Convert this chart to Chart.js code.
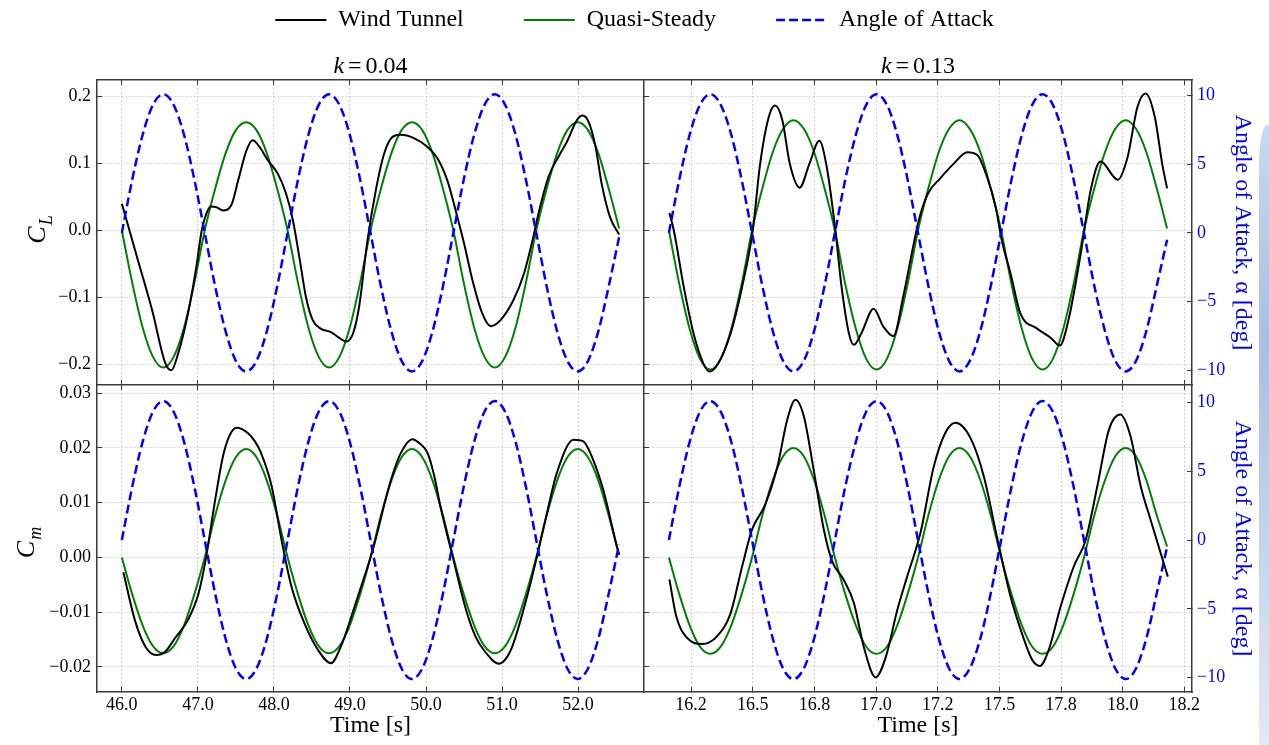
<!DOCTYPE html>
<html>
<head>
<meta charset="utf-8">
<script src="https://cdn.jsdelivr.net/npm/chart.js@4.4.1/dist/chart.umd.min.js"></script>
<style>
  html, body { margin: 0; padding: 0; background: #fff; }
  body { width: 1269px; height: 745px; position: relative; overflow: hidden; }
  canvas { position: absolute; }
  #strip { position: absolute; left: 1259px; top: 125px; width: 10px; height: 620px;
           background: linear-gradient(#cbd8ef, #aabee0 35%, #e3e9f5); border-top-left-radius: 8px 40px; }
</style>
</head>
<body>
<div id="strip"></div>
<canvas id="legend" width="1269" height="300" style="left:0;top:-52px"></canvas>
<canvas id="tl" width="644" height="385" style="left:0;top:0"></canvas>
<canvas id="tr" width="625" height="385" style="left:644px;top:0"></canvas>
<canvas id="bl" width="644" height="385" style="left:0;top:360px"></canvas>
<canvas id="br" width="625" height="385" style="left:644px;top:360px"></canvas>
<script>
// k = 0.04 run (slow)
const slowTime = [46.000, 46.136, 46.273, 46.409, 46.545, 46.681, 46.818, 46.954, 47.090, 47.226, 47.363, 47.499,
  47.635, 47.771, 47.908, 48.044, 48.180, 48.316, 48.453, 48.589, 48.725, 48.861, 48.998, 49.134, 49.270, 49.406,
  49.543, 49.679, 49.815, 49.951, 50.088, 50.224, 50.360, 50.496, 50.633, 50.769, 50.905, 51.041, 51.178, 51.314,
  51.450, 51.586, 51.723, 51.859, 51.995, 52.131, 52.268, 52.404, 52.540];
const slowAlpha = [0, 3.87, 7.14, 9.33, 10.1, 9.33, 7.14, 3.87, 0, -3.87, -7.14, -9.33, -10.1, -9.33, -7.14, -3.87,
  0, 3.87, 7.14, 9.33, 10.1, 9.33, 7.14, 3.87, 0, -3.87, -7.14, -9.33, -10.1, -9.33, -7.14, -3.87,
  0, 3.87, 7.14, 9.33, 10.1, 9.33, 7.14, 3.87, 0, -3.87, -7.14, -9.33, -10.1, -9.33, -7.14, -3.87, -0.3];
const slowQsLift = [0, -0.078, -0.145, -0.189, -0.205, -0.189, -0.145, -0.078, 0, 0.062, 0.115, 0.150, 0.162, 0.150, 0.115, 0.062,
  0, -0.078, -0.145, -0.189, -0.205, -0.189, -0.145, -0.078, 0, 0.062, 0.115, 0.150, 0.162, 0.150, 0.115, 0.062,
  0, -0.078, -0.145, -0.189, -0.205, -0.189, -0.145, -0.078, 0, 0.062, 0.115, 0.150, 0.162, 0.150, 0.115, 0.062, 0.003];
const slowQsMoment = [0, -0.0067, -0.0124, -0.0162, -0.0175, -0.0162, -0.0124, -0.0067, 0, 0.0076, 0.0140, 0.0183, 0.0198, 0.0183, 0.0140, 0.0076,
  0, -0.0067, -0.0124, -0.0162, -0.0175, -0.0162, -0.0124, -0.0067, 0, 0.0076, 0.0140, 0.0183, 0.0198, 0.0183, 0.0140, 0.0076,
  0, -0.0067, -0.0124, -0.0162, -0.0175, -0.0162, -0.0124, -0.0067, 0, 0.0076, 0.0140, 0.0183, 0.0198, 0.0183, 0.0140, 0.0076, 0.0005];
const slowWindLiftT = [46.00, 46.20, 46.40, 46.57, 46.65, 46.74, 46.87, 46.98, 47.05, 47.11, 47.17, 47.24, 47.33, 47.44, 47.53,
  47.64, 47.72, 47.81, 47.92, 48.05, 48.16, 48.25, 48.34, 48.42, 48.51, 48.62, 48.75, 48.84, 48.95, 49.04, 49.12, 49.23,
  49.34, 49.45, 49.56, 49.67, 49.84, 50.02, 50.15, 50.28, 50.39, 50.50, 50.61, 50.74, 50.85, 50.98, 51.15, 51.29, 51.40,
  51.50, 51.61, 51.74, 51.85, 51.99, 52.06, 52.14, 52.23, 52.31, 52.42, 52.54];
const slowWindLift = [0.040, -0.040, -0.120, -0.198, -0.209, -0.184, -0.124, -0.054, 0.000, 0.025, 0.036, 0.035, 0.030, 0.038, 0.075,
  0.120, 0.135, 0.125, 0.105, 0.085, 0.055, 0.015, -0.044, -0.099, -0.134, -0.147, -0.152, -0.159, -0.166, -0.154, -0.114, -0.015,
  0.060, 0.115, 0.140, 0.143, 0.138, 0.125, 0.108, 0.075, 0.030, -0.019, -0.074, -0.124, -0.143, -0.134, -0.104, -0.064, -0.015,
  0.035, 0.080, 0.110, 0.132, 0.166, 0.172, 0.162, 0.125, 0.070, 0.020, -0.006];
const slowWindMomentT = [46.02, 46.17, 46.31, 46.45, 46.57, 46.70, 46.87, 47.01, 47.11, 47.22, 47.33, 47.42, 47.51, 47.66, 47.75,
  47.83, 47.97, 48.10, 48.23, 48.40, 48.58, 48.75, 48.88, 49.06, 49.19, 49.30, 49.54, 49.67, 49.82, 49.91, 50.02, 50.11,
  50.19, 50.35, 50.54, 50.65, 50.76, 50.96, 51.07, 51.15, 51.33, 51.48, 51.59, 51.72, 51.94, 52.07, 52.16, 52.33, 52.51, 52.54];
const slowWindMoment = [-0.0027, -0.0114, -0.0163, -0.0178, -0.0172, -0.0147, -0.0114, -0.0065, 0.0002, 0.0099, 0.0185, 0.0224, 0.0237, 0.0227, 0.0212,
  0.0191, 0.0130, 0.0032, -0.0053, -0.0120, -0.0169, -0.0193, -0.0163, -0.0090, -0.0035, 0.0014, 0.0142, 0.0191, 0.0216, 0.0209, 0.0191, 0.0148,
  0.0093, 0.0002, -0.0102, -0.0144, -0.0169, -0.0194, -0.0181, -0.0157, -0.0071, 0.0014, 0.0081, 0.0154, 0.0215, 0.0212, 0.0191, 0.0124, 0.0020, 0.0005];

// k = 0.13 run (fast)
const fastTime = [16.160, 16.202, 16.244, 16.286, 16.328, 16.370, 16.413, 16.455, 16.497, 16.539, 16.581, 16.623,
  16.665, 16.707, 16.749, 16.791, 16.833, 16.875, 16.918, 16.960, 17.002, 17.044, 17.086, 17.128, 17.170, 17.212,
  17.254, 17.296, 17.338, 17.380, 17.423, 17.465, 17.507, 17.549, 17.591, 17.633, 17.675, 17.717, 17.759, 17.801,
  17.843, 17.885, 17.928, 17.970, 18.012, 18.054, 18.096, 18.138, 18.180];
const fastAlpha = [0, 3.87, 7.14, 9.33, 10.1, 9.33, 7.14, 3.87, 0, -3.87, -7.14, -9.33, -10.1, -9.33, -7.14, -3.87,
  0, 3.87, 7.14, 9.33, 10.1, 9.33, 7.14, 3.87, 0, -3.87, -7.14, -9.33, -10.1, -9.33, -7.14, -3.87,
  0, 3.87, 7.14, 9.33, 10.1, 9.33, 7.14, 3.87, 0, -3.87, -7.14, -9.33, -10.1, -9.33, -7.14, -3.87, -0.5];
const fastQsLift = [0, -0.080, -0.147, -0.192, -0.208, -0.192, -0.147, -0.080, 0, 0.063, 0.117, 0.152, 0.165, 0.152, 0.117, 0.063,
  0, -0.080, -0.147, -0.192, -0.208, -0.192, -0.147, -0.080, 0, 0.063, 0.117, 0.152, 0.165, 0.152, 0.117, 0.063,
  0, -0.080, -0.147, -0.192, -0.208, -0.192, -0.147, -0.080, 0, 0.063, 0.117, 0.152, 0.165, 0.152, 0.117, 0.063, 0.003];
const fastQsMoment = [0, -0.0067, -0.0124, -0.0163, -0.0176, -0.0163, -0.0124, -0.0067, 0, 0.0077, 0.0141, 0.0185, 0.0200, 0.0185, 0.0141, 0.0077,
  0, -0.0067, -0.0124, -0.0163, -0.0176, -0.0163, -0.0124, -0.0067, 0, 0.0077, 0.0141, 0.0185, 0.0200, 0.0185, 0.0141, 0.0077,
  0, -0.0067, -0.0124, -0.0163, -0.0176, -0.0163, -0.0124, -0.0067, 0, 0.0077, 0.0141, 0.0185, 0.0200, 0.0185, 0.0141, 0.0077, 0.002];
const fastWindLiftT = [16.162, 16.18, 16.22, 16.26, 16.30, 16.325, 16.36, 16.41, 16.457, 16.50, 16.53, 16.565, 16.59, 16.62,
  16.65, 16.69, 16.73, 16.77, 16.80, 16.835, 16.86, 16.89, 16.91, 16.94, 16.99, 17.03, 17.07, 17.11, 17.145, 17.173,
  17.21, 17.26, 17.315, 17.37, 17.41, 17.45, 17.485, 17.51, 17.545, 17.585, 17.65, 17.71, 17.745, 17.78, 17.83, 17.87,
  17.91, 17.98, 18.02, 18.06, 18.093, 18.13, 18.16, 18.18];
const fastWindLift = [0.026, 0.000, -0.084, -0.154, -0.199, -0.211, -0.199, -0.154, -0.084, 0.000, 0.100, 0.170, 0.187, 0.165,
  0.100, 0.064, 0.100, 0.134, 0.095, 0.000, -0.084, -0.154, -0.171, -0.154, -0.117, -0.144, -0.158, -0.099, -0.034, 0.015,
  0.055, 0.078, 0.100, 0.117, 0.113, 0.080, 0.035, -0.015, -0.064, -0.124, -0.146, -0.161, -0.172, -0.134, -0.034, 0.060,
  0.103, 0.076, 0.110, 0.185, 0.205, 0.170, 0.100, 0.063];
const fastWindMomentT = [16.162, 16.19, 16.234, 16.295, 16.355, 16.41, 16.457, 16.497, 16.55, 16.60, 16.64, 16.673, 16.707,
  16.747, 16.788, 16.822, 16.869, 16.91, 16.95, 16.998, 17.04, 17.086, 17.126, 17.18, 17.234, 17.28, 17.322, 17.383,
  17.437, 17.49, 17.545, 17.60, 17.633, 17.664, 17.70, 17.748, 17.802, 17.85, 17.897, 17.944, 17.99, 18.032, 18.073,
  18.113, 18.154, 18.183];
const fastWindMoment = [-0.0040, -0.0108, -0.0147, -0.0158, -0.0144, -0.0102, -0.0016, 0.0051, 0.0096, 0.0166, 0.0252, 0.0288, 0.0258,
  0.0160, 0.0051, -0.0007, -0.0041, -0.0083, -0.0163, -0.0219, -0.0181, -0.0096, -0.0035, 0.0045, 0.0166, 0.0227, 0.0246, 0.0218,
  0.0148, 0.0038, -0.0071, -0.0150, -0.0187, -0.0198, -0.0169, -0.0090, -0.0016, 0.0032, 0.0130, 0.0233, 0.0261, 0.0221, 0.0130,
  0.0069, 0.0008, -0.0035];

const slowTicks = [46, 47, 48, 49, 50, 51, 52];
const slowTickLabels = ['46.0', '47.0', '48.0', '49.0', '50.0', '51.0', '52.0'];
const fastTicks = [16.25, 16.5, 16.75, 17.0, 17.25, 17.5, 17.75, 18.0, 18.25];
const fastTickLabels = ['16.2', '16.5', '16.8', '17.0', '17.2', '17.5', '17.8', '18.0', '18.2'];

const FONT = "'Liberation Serif', 'Times New Roman', serif";
const BLUE = '#0000ff';
const GREEN = '#008000';
const GRID = '#c4c4c4';
const FRAME = '#3a3a3a';

Chart.defaults.font.family = FONT;
Chart.defaults.color = '#000';

function pts(xs, ys) { return xs.map((x, i) => ({ x: x, y: ys[i] })); }
function signed(v, d) { return (v < 0 ? '\u2212' : '') + Math.abs(v).toFixed(d); }

// italic k title and C_L / C_m labels
const mathLabels = {
  id: 'mathLabels',
  afterDraw(chart, args, opts) {
    const ctx = chart.ctx;
    const area = chart.chartArea;
    ctx.save();
    ctx.fillStyle = '#000';
    ctx.textBaseline = 'alphabetic';
    if (opts.k) {
      const parts = [['italic 24px ' + FONT, 'k'], ['24px ' + FONT, '='], ['24px ' + FONT, opts.k]];
      const gap = 4;
      const widths = parts.map(p => { ctx.font = p[0]; return ctx.measureText(p[1]).width; });
      let x = (area.left + area.right) / 2 - (widths[0] + widths[1] + widths[2] + 2 * gap) / 2;
      parts.forEach((p, i) => { ctx.font = p[0]; ctx.fillText(p[1], x, area.top - 7); x += widths[i] + gap; });
    }
    if (opts.sym) {
      ctx.translate(opts.sym.x, opts.sym.y);
      ctx.rotate(-Math.PI / 2);
      ctx.font = 'italic 26px ' + FONT;
      const wC = ctx.measureText('C').width;
      ctx.font = 'italic 18px ' + FONT;
      const wS = ctx.measureText(opts.sym.sub).width;
      const x0 = -(wC + wS) / 2;
      ctx.font = 'italic 26px ' + FONT;
      ctx.fillText('C', x0, 0);
      ctx.font = 'italic 18px ' + FONT;
      ctx.fillText(opts.sym.sub, x0 + wC + 1, 7);
    }
    ctx.restore();
  }
};

function timeScale(pos, p) {
  const bottom = pos === 'bottom';
  const labels = bottom && p.row === 1;
  return {
    type: 'linear', position: pos, min: p.xr[0], max: p.xr[1],
    afterBuildTicks: s => { s.ticks = p.xt.map(v => ({ value: v })); },
    afterFit: s => { s.height = labels ? 53 : 0; s.paddingLeft = 0; s.paddingRight = 0; },
    ticks: { display: labels, autoSkip: false, maxRotation: 0, padding: 7, font: { size: 18 }, color: '#000',
      callback: (v, i) => p.xl[i] },
    grid: { drawOnChartArea: bottom, color: GRID, lineWidth: 0.8, tickLength: -5, tickColor: FRAME, tickWidth: 1 },
    border: { color: FRAME, width: 1.5, dash: [2, 2] },
    title: { display: labels, text: 'Time [s]', font: { size: 24 }, color: '#000', padding: { top: 0, bottom: 4.5 } }
  };
}

function valueScale(p) {
  const left = p.col === 0;
  return {
    type: 'linear', position: 'left', min: p.yr[0], max: p.yr[1],
    afterFit: s => { s.width = left ? 97 : 0; s.paddingTop = 0; s.paddingBottom = 0; },
    ticks: { display: left, stepSize: p.step, includeBounds: false, padding: 11, font: { size: 18 }, color: '#000',
      callback: v => signed(v, p.dec) },
    grid: { color: GRID, lineWidth: 0.8, tickLength: -5, tickColor: FRAME, tickWidth: 1 },
    border: { color: FRAME, width: 1.5, dash: [2, 2] }
  };
}

function alphaScale(p) {
  const right = p.col === 1;
  return {
    type: 'linear', position: 'right', min: p.ar[0], max: p.ar[1],
    afterFit: s => { s.width = right ? 77 : 0; s.paddingTop = 0; s.paddingBottom = 0; },
    ticks: { display: right, stepSize: 5, includeBounds: false, padding: 10, font: { size: 18 }, color: BLUE,
      callback: v => signed(v, 0) },
    grid: { display: right, drawOnChartArea: false, tickLength: -5, tickColor: FRAME, tickWidth: 1 },
    border: { color: FRAME, width: 1.5 },
    title: { display: right, text: 'Angle of Attack, \u03b1 [deg]', color: BLUE, font: { size: 24 },
      padding: { top: 12, bottom: 0 } }
  };
}

function panel(id, p) {
  return new Chart(document.getElementById(id), {
    type: 'line',
    data: {
      datasets: [
        { label: 'Angle of Attack', yAxisID: 'yA', data: pts(p.t, p.alpha), borderColor: BLUE, borderWidth: 2.5, borderDash: [9, 4.5] },
        { label: 'Wind Tunnel', yAxisID: 'y', data: pts(p.wT, p.w), borderColor: '#000', borderWidth: 2 },
        { label: 'Quasi-Steady', yAxisID: 'y', data: pts(p.t, p.qs), borderColor: GREEN, borderWidth: 2 }
      ]
    },
    options: {
      responsive: false, animation: false, events: [],
      layout: { padding: { top: p.row === 0 ? 80 : 25, left: 0, right: 0, bottom: 0 }, autoPadding: false },
      elements: { point: { radius: 0 }, line: { cubicInterpolationMode: 'monotone', fill: false } },
      plugins: { legend: { display: false }, tooltip: { enabled: false }, mathLabels: { k: p.k, sym: p.sym } },
      scales: { x: timeScale('bottom', p), x2: timeScale('top', p), y: valueScale(p), yA: alphaScale(p) }
    },
    plugins: [mathLabels]
  });
}

const slowX = { xr: [45.673, 52.867], xt: slowTicks, xl: slowTickLabels, t: slowTime, alpha: slowAlpha, col: 0 };
const fastX = { xr: [16.059, 18.281], xt: fastTicks, xl: fastTickLabels, t: fastTime, alpha: fastAlpha, col: 1 };
const liftY = { row: 0, yr: [-0.231, 0.225], step: 0.1, dec: 1, ar: [-11.09, 11.14] };
const momentY = { row: 1, yr: [-0.02457, 0.0315], step: 0.01, dec: 2, ar: [-11.04, 11.27] };

panel('tl', Object.assign({}, slowX, liftY, { w: slowWindLift, wT: slowWindLiftT, qs: slowQsLift, k: '0.04', sym: { x: 45, y: 230, sub: 'L' } }));
panel('tr', Object.assign({}, fastX, liftY, { w: fastWindLift, wT: fastWindLiftT, qs: fastQsLift, k: '0.13' }));
panel('bl', Object.assign({}, slowX, momentY, { w: slowWindMoment, wT: slowWindMomentT, qs: slowQsMoment, sym: { x: 34, y: 183, sub: 'm' } }));
panel('br', Object.assign({}, fastX, momentY, { w: fastWindMoment, wT: fastWindMomentT, qs: fastQsMoment }));

// shared legend across the top
new Chart(document.getElementById('legend'), {
  type: 'line',
  data: {
    datasets: [
      { label: 'Wind Tunnel', data: [], borderColor: '#000', pointBorderColor: '#000', borderWidth: 2 },
      { label: 'Quasi-Steady', data: [], borderColor: GREEN, pointBorderColor: GREEN, borderWidth: 2 },
      { label: 'Angle of Attack', data: [], borderColor: BLUE, pointBorderColor: BLUE, borderWidth: 2.5, borderDash: [9, 4] }
    ]
  },
  options: {
    responsive: false, animation: false, events: [],
    layout: { autoPadding: false },
    scales: { x: { display: false }, y: { display: false } },
    plugins: {
      tooltip: { enabled: false },
      legend: {
        display: true,
        labels: {
          usePointStyle: true, pointStyle: 'line', pointStyleWidth: 51, padding: 60,
          font: { size: 24 }, color: '#000',
          generateLabels: chart => Chart.defaults.plugins.legend.labels.generateLabels(chart)
            .map((item, i) => Object.assign(item, { lineDash: chart.data.datasets[i].borderDash || [] }))
        }
      }
    }
  }
});
</script>
</body>
</html>
